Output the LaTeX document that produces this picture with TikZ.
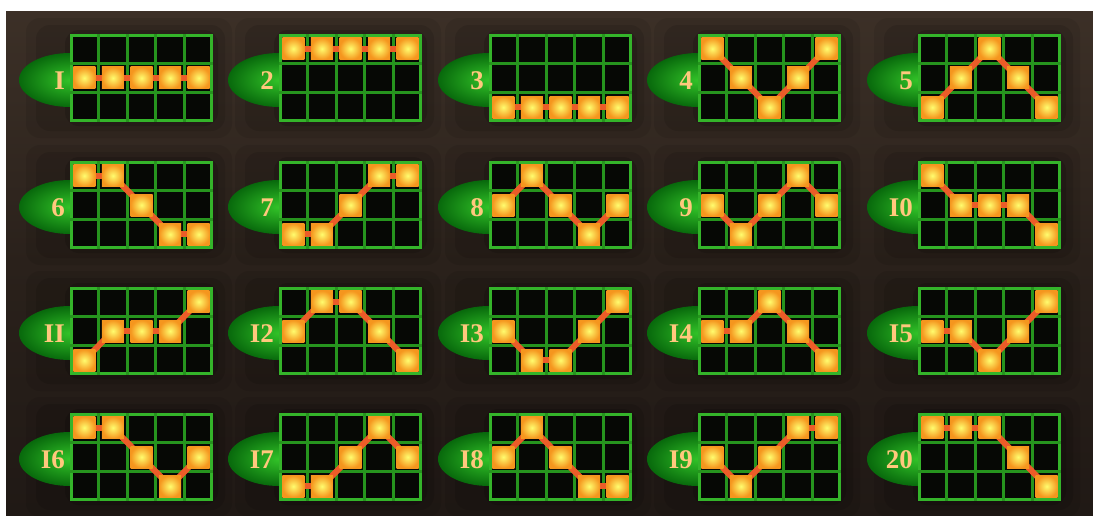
\documentclass[tikz,border=0pt]{standalone}
\usepackage{fontspec}
\setmainfont{Liberation Serif}
\usetikzlibrary{shapes.geometric,calc}
\pgfdeclarelayer{gemlayer}
\pgfsetlayers{main,gemlayer}
\definecolor{bgtop}{RGB}{60,48,39}
\definecolor{bgmid}{RGB}{42,33,27}
\definecolor{bgbot}{RGB}{32,25,21}
\definecolor{ovalin}{RGB}{50,195,40}
\definecolor{ovalout}{RGB}{8,105,12}
\definecolor{gridframe}{RGB}{52,180,42}
\definecolor{gridline}{RGB}{38,148,30}
\definecolor{cellfill}{RGB}{6,8,5}
\definecolor{gemin}{RGB}{255,252,110}
\definecolor{gemout}{RGB}{245,150,30}
\definecolor{linkcol}{RGB}{236,92,40}
\definecolor{numcol}{RGB}{255,200,125}
\tikzset{
  oval/.style={ellipse, minimum width=102, minimum height=54, inner sep=0pt,
    inner color=ovalin, outer color=ovalout},
  gridbox/.style={rectangle, minimum width=140, minimum height=85, inner sep=0pt,
    fill=cellfill, draw=gridframe, line width=3pt},
  cellline/.style={draw=gridline, line width=2.8pt},
  gem/.style={rectangle, minimum size=22, inner sep=0pt,
    inner color=gemin, outer color=gemout},
  link/.style={draw=linkcol, line width=6pt},
  numlab/.style={text=numcol, inner sep=0pt,
    font=\fontsize{27}{27}\selectfont\bfseries},
  gshadow/.style={fill=black, rounded corners=14pt}
}
\begin{document}
\begin{tikzpicture}[x=1pt,y=-1pt]
\useasboundingbox (0,0) rectangle (1093,515);
\fill[white] (0,0) rectangle (1093,515);
\shade[top color=bgtop, bottom color=bgbot, middle color=bgmid] (6,11) rectangle (1093,515);
\foreach \lab/\pa/\pb/\pc/\pd/\pe [count=\i from 0] in
  {I/1/1/1/1/1, 2/0/0/0/0/0, 3/2/2/2/2/2, 4/0/1/2/1/0, 5/2/1/0/1/2,
   6/0/0/1/2/2, 7/2/2/1/0/0, 8/1/0/1/2/1, 9/1/2/1/0/1, I0/0/1/1/1/2,
   II/2/1/1/1/0, I2/1/0/0/1/2, I3/1/2/2/1/0, I4/1/1/0/1/2, I5/1/1/2/1/0,
   I6/0/0/1/2/1, I7/2/2/1/0/1, I8/1/0/1/2/2, I9/1/2/1/0/0, 20/0/0/0/1/2}{
  \pgfmathtruncatemacro\col{mod(\i,5)}
  \pgfmathtruncatemacro\row{div(\i,5)}
  \pgfmathsetmacro\gx{{70,279,489,698,918}[\col]}
  \pgfmathsetmacro\gy{{34,161,287,413}[\row]}
  % soft shadow
  \fill[gshadow, opacity=0.08] ({\gx-44},{\gy-16}) rectangle ({\gx+162},{\gy+104});
  \fill[gshadow, opacity=0.10] ({\gx-34},{\gy-9}) rectangle ({\gx+155},{\gy+97});
  \fill[gshadow, opacity=0.14] ({\gx-5},{\gy-4}) rectangle ({\gx+148},{\gy+92});
  % oval tab
  \node[oval] (o\i) at ({\gx},{\gy+46}) {};
  % grid
  \node[gridbox] (g\i) at ({\gx+71.5},{\gy+44}) {};
  \foreach \k in {1,2,3,4}{
    \draw[cellline] ($(g\i.north west)!\k/5!(g\i.north east)$) -- ($(g\i.south west)!\k/5!(g\i.south east)$);
  }
  \foreach \k in {1,2}{
    \draw[cellline] ($(g\i.north west)!\k/3!(g\i.south west)$) -- ($(g\i.north east)!\k/3!(g\i.south east)$);
  }
  % gems (on top layer)
  \begin{pgfonlayer}{gemlayer}
  \foreach \r [count=\c from 0] in {\pa,\pb,\pc,\pd,\pe}{
    \node[gem] (s\i-\c) at ({\gx+(\c+0.5)*28.6},{\gy+(\r+0.5)*29.33}) {};
  }
  \end{pgfonlayer}
  % links, beneath the gems
  \foreach \c [evaluate=\c as \cn using int(\c+1)] in {0,1,2,3}{
    \draw[link] (s\i-\c.center) -- (s\i-\cn.center);
  }
  % label
  \node[numlab, anchor=east] (n\i) at ({\gx-5},{\gy+47}) {\lab};
}
\end{tikzpicture}
\end{document}
